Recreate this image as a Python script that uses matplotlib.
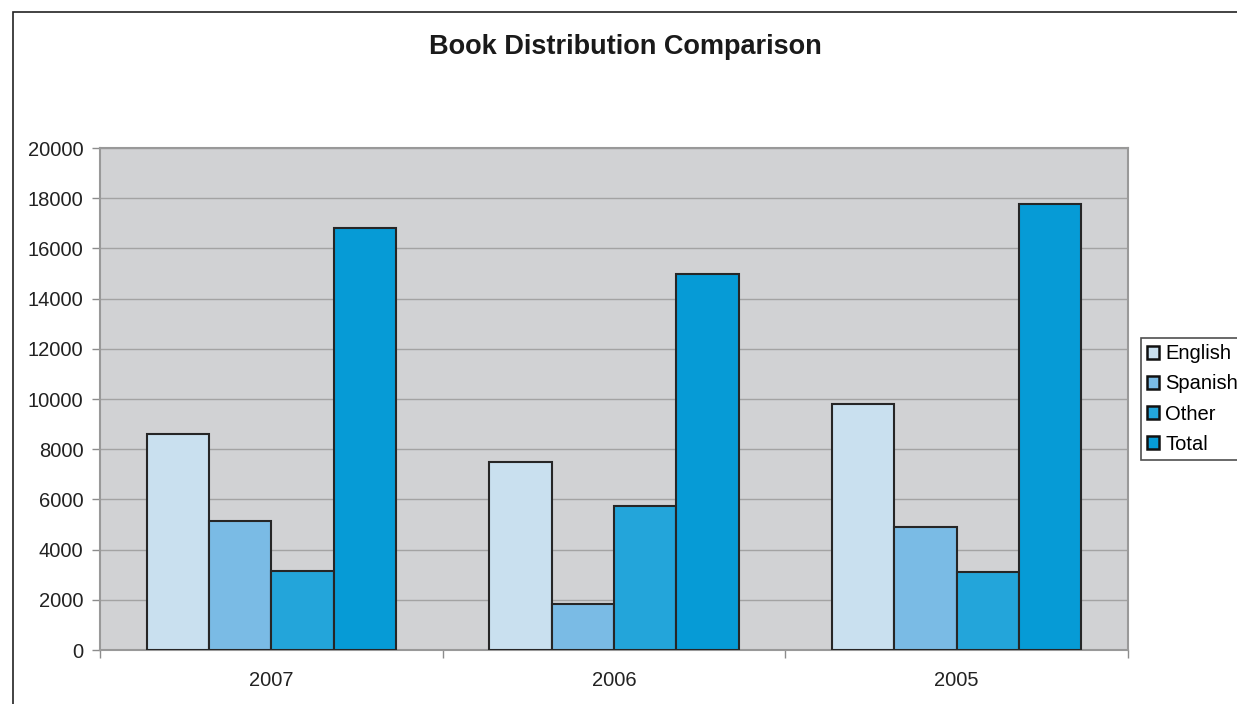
import numpy as np
import matplotlib.pyplot as plt
from matplotlib.patches import Rectangle

plt.rcParams['font.family'] = ['Liberation Sans', 'DejaVu Sans']

# datos
years = ['2007', '2006', '2005']
series = ['English', 'Spanish', 'Other', 'Total']
english = [8600, 7500, 9800]
spanish = [5150, 1830, 4900]
other = [3150, 5750, 3100]
total = [16800, 15000, 17750]
colors = ['#c9e0ef', '#7abbe5', '#23a5da', '#069bd6']

fig = plt.figure(figsize=(12.37, 7.04), dpi=100)
# marco exterior del grafico (cortado a la derecha y abajo)
fig.patches.append(Rectangle((13 / 1237, -0.1), 1.2, 1.1 - 12 / 704,
                             transform=fig.transFigure, fill=False,
                             edgecolor='#222222', linewidth=1.2))

ax = fig.add_axes([100 / 1237, 1 - 650 / 704, 1028 / 1237, 502 / 704])
ax.set_facecolor('#d1d2d4')

x = np.arange(len(years))
w = 0.182
for i, (name, vals) in enumerate(zip(series, [english, spanish, other, total])):
    ax.bar(x + (i - 1.5) * w, vals, width=w, color=colors[i],
           edgecolor='#262626', linewidth=1.5, label=name, zorder=3)

ax.set_xlim(-0.5, 2.5)
ax.set_ylim(0, 20000)
ax.set_yticks(np.arange(0, 20001, 2000))
ax.yaxis.grid(True, color='#a3a3a3', linewidth=1.0, zorder=0)
ax.set_xticks(x)
ax.set_xticklabels(years)
ax.set_xticks([-0.5, 0.5, 1.5, 2.5], minor=True)
ax.tick_params(axis='x', which='major', length=0, pad=15, labelsize=14.5, colors='#222222')
ax.tick_params(axis='x', which='minor', length=6, color='#8c8c8c', width=1)
ax.tick_params(axis='y', length=6, width=1, labelsize=14.5, pad=6, colors='#222222')
ax.tick_params(axis='y', color='#8c8c8c')
for s in ax.spines.values():
    s.set_color('#999999')
    s.set_linewidth(1.5)

fig.suptitle('Book Distribution Comparison', x=625 / 1237, y=1 - 47 / 704,
             va='center', fontsize=19.5, fontweight='bold', color='#1a1a1a')

leg = ax.legend(loc='center left', bbox_to_anchor=(1141 / 1237, 1 - 399 / 704),
                bbox_transform=fig.transFigure, fontsize=14.5, frameon=True,
                fancybox=False, edgecolor='#222222', handlelength=0.6,
                handleheight=0.6, handletextpad=0.3, borderpad=0.3,
                labelspacing=0.55, borderaxespad=0)
leg.get_frame().set_linewidth(1.2)
for h in leg.legend_handles:
    h.set_edgecolor('#111111')
    h.set_linewidth(1.8)

fig.savefig('out.png', dpi=100)
